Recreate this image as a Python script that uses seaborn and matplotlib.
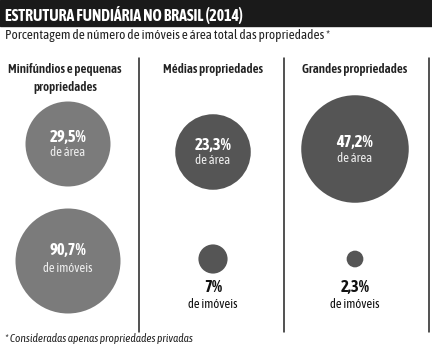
import matplotlib
matplotlib.use("Agg")
import matplotlib.pyplot as plt
import seaborn as sns
import pandas as pd
import numpy as np

# ---- data ----
categories = ["Minifúndios e pequenas\npropriedades", "Médias propriedades", "Grandes propriedades"]
area_pct = [29.5, 23.3, 47.2]
imoveis_pct = [90.7, 7.0, 2.3]
area_labels = ["29,5%", "23,3%", "47,2%"]
imoveis_labels = ["90,7%", "7%", "2,3%"]
title = "ESTRUTURA FUNDIÁRIA NO BRASIL (2014)"
subtitle = "Porcentagem de número de imóveis e área total das propriedades *"
footnote = "* Consideradas apenas propriedades privadas"

sns.set_theme(style="white")
FONT = ["Asap Condensed", "DejaVu Sans"]
plt.rcParams["font.family"] = FONT

W, H, DPI = 432, 350, 100
fig = plt.figure(figsize=(W / DPI, H / DPI), dpi=DPI)
ax = fig.add_axes([0, 0, 1, 1])
ax.set_xlim(0, W)
ax.set_ylim(H, 0)
ax.axis("off")

col_x = [68, 213, 355]
row_y_area = [144, 152, 149]
row_y_im = [261, 259, 259]
colors = ["#7b7b7b", "#555555", "#555555"]

k_area = 42.5 / np.sqrt(29.5)
k_im = 52.5 / np.sqrt(90.7)
px_to_pt = 72.0 / DPI

rows = []
for i, c in enumerate(categories):
    r1 = k_area * np.sqrt(area_pct[i])
    r2 = k_im * np.sqrt(imoveis_pct[i])
    rows.append(dict(key=f"a{i}", x=col_x[i], y=row_y_area[i], val=area_pct[i],
                     s=(2 * r1 * px_to_pt) ** 2, color=colors[i]))
    rows.append(dict(key=f"m{i}", x=col_x[i], y=row_y_im[i], val=imoveis_pct[i],
                     s=(2 * r2 * px_to_pt) ** 2, color=colors[i]))
df = pd.DataFrame(rows)

sns.scatterplot(data=df, x="x", y="y", hue="key", size="key",
                palette=dict(zip(df.key, df.color)),
                sizes=dict(zip(df.key, df.s)),
                linewidth=0, legend=False, ax=ax, zorder=3)

# title bar
ax.add_patch(plt.Rectangle((0, 0), W, 26, color="#1a1a1a", zorder=1))
ax.text(5, 15, title, color="white", fontsize=11.3, fontweight="bold",
        va="center", ha="left", zorder=2)
ax.text(5, 35, subtitle, color="#222222", fontsize=9.5, va="center", ha="left")

# separators
for xs in [138.5, 283.5, 428.5]:
    ax.plot([xs, xs], [58, 332], color="#222222", lw=1.1, zorder=1)

# headers
HDR = 9.4
head_y = [70, 70, 70]
for i, cat in enumerate(categories):
    for j, line in enumerate(cat.split("\n")):
        ax.text(col_x[i] - (3 if i == 0 else 0), head_y[i] + 17 * j, line,
                ha="center", va="center", fontsize=HDR,
                fontweight="semibold", color="#222222")

# area labels (inside)
for i in range(3):
    ax.text(col_x[i], row_y_area[i] - 7, area_labels[i], ha="center", va="center",
            fontsize=12, fontweight="bold", color="white", zorder=4)
    ax.text(col_x[i], row_y_area[i] + 9, "de área", ha="center", va="center",
            fontsize=9.3, color="#eeeeee", zorder=4)

ax.text(col_x[0], row_y_im[0] - 11, imoveis_labels[0], ha="center", va="center",
        fontsize=12, fontweight="bold", color="white", zorder=4)
ax.text(col_x[0], row_y_im[0] + 7, "de imóveis", ha="center", va="center",
        fontsize=9.1, color="#eeeeee", zorder=4)
for i in [1, 2]:
    ax.text(col_x[i], 287, imoveis_labels[i], ha="center", va="center",
            fontsize=12, fontweight="bold", color="#111111", zorder=4)
    ax.text(col_x[i], 304, "de imóveis", ha="center", va="center",
            fontsize=9.1, color="#111111", zorder=4)

ax.text(5, 338, footnote, ha="left", va="center", fontsize=8.2, style="italic",
        color="#222222")

fig.savefig("out.png", dpi=DPI)
